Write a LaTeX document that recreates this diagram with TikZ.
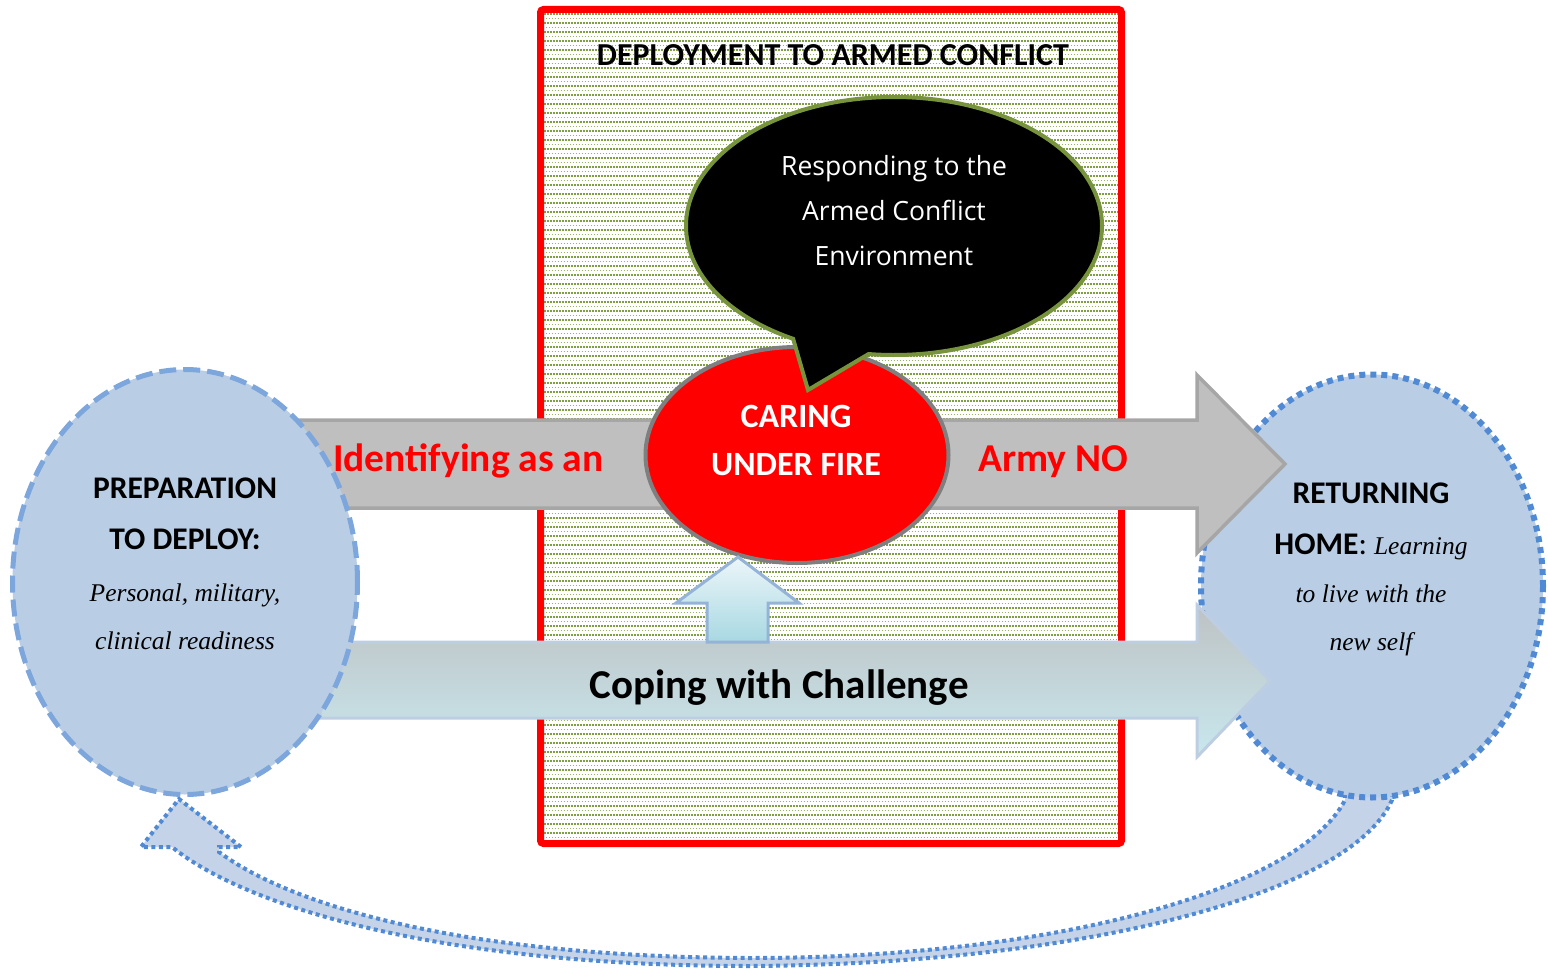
\documentclass[tikz,border=0pt]{standalone}
\usepackage{fontspec}
\setmainfont{Carlito}
\newfontfamily\opensans{Open Sans}
\newfontfamily\serifit{Liberation Serif}
\usetikzlibrary{shapes.geometric,shapes.callouts}

\definecolor{conflictred}{RGB}{255,0,0}
\definecolor{dotgreen}{RGB}{128,158,68}
\definecolor{bubbleedge}{RGB}{119,147,60}
\definecolor{ringgray}{RGB}{127,127,127}
\definecolor{arrowgray}{RGB}{191,191,191}
\definecolor{arrowedge}{RGB}{166,166,166}
\definecolor{circlefill}{RGB}{185,205,229}
\definecolor{dashblue}{RGB}{125,166,220}
\definecolor{dotblue}{RGB}{80,138,212}
\definecolor{copetop}{RGB}{190,194,196}
\definecolor{copebottom}{RGB}{200,232,238}
\definecolor{copeedge}{RGB}{190,206,226}
\definecolor{liftedge}{RGB}{149,179,215}
\definecolor{lifttop}{RGB}{236,246,249}
\definecolor{liftbottom}{RGB}{168,216,226}
\definecolor{loopfill}{RGB}{196,211,232}

\tikzset{
  dotrowa/.style={dotgreen, line width=1.9pt, dash pattern=on 1.6pt off 1.4pt},
  dotrowb/.style={dotgreen!80, line width=1.6pt, dash pattern=on 1.4pt off 1.6pt, dash phase=1.5pt},
  frame/.style={draw=conflictred, line width=7pt, rounded corners=3pt,
    minimum width=581pt, minimum height=834pt, inner sep=0pt},
  titletext/.style={font=\bfseries\fontsize{32}{36}\selectfont, inner sep=0pt},
  idarrow/.style={fill=arrowgray, draw=arrowedge, line width=3.5pt, line join=miter},
  copearrow/.style={top color=copetop, bottom color=copebottom, draw=copeedge,
    line width=3pt, line join=miter},
  liftarrow/.style={top color=lifttop, bottom color=liftbottom, draw=liftedge,
    line width=3pt, line join=miter},
  loopback/.style={fill=loopfill, draw=dotblue, line width=4pt,
    dash pattern=on 4pt off 3.5pt, line join=miter},
  prepcircle/.style={ellipse, fill=circlefill, draw=dashblue, line width=5pt,
    dash pattern=on 17pt off 7pt, minimum width=345pt, minimum height=425pt, inner sep=0pt},
  homecircle/.style={ellipse, fill=circlefill, draw=dotblue, line width=6pt,
    dash pattern=on 6pt off 5pt, minimum width=342pt, minimum height=423pt, inner sep=0pt},
  careellipse/.style={ellipse, fill=conflictred, draw=ringgray, line width=4pt,
    minimum width=303pt, minimum height=216pt, inner sep=0pt},
  bubble/.style={ellipse callout, fill=black, draw=bubbleedge, line width=4pt,
    line join=miter, minimum width=416pt, minimum height=258pt, inner sep=0pt},
  bubbletext/.style={text=white, font=\opensans\fontsize{26.5}{30}\selectfont, inner sep=0pt, anchor=base},
  caretext/.style={text=white, font=\bfseries\fontsize{34}{38}\selectfont, inner sep=0pt, anchor=base},
  redtext/.style={text=conflictred, font=\bfseries\fontsize{39.5}{44}\selectfont, inner sep=0pt, anchor=base},
  copetext/.style={font=\bfseries\fontsize{41}{46}\selectfont, inner sep=0pt, anchor=base},
  headtext/.style={font=\bfseries\fontsize{31.5}{36}\selectfont, inner sep=0pt, anchor=base},
  ittext/.style={font=\serifit\itshape\fontsize{25.5}{30}\selectfont, inner sep=0pt, anchor=base},
}

\begin{document}
\begin{tikzpicture}[x=1pt,y=-1pt]
\useasboundingbox (0,0) rectangle (1548,971);

% textured background of the deployment frame
\fill[white] (540.5,9.5) rectangle (1121.5,843.5);
\foreach \r [evaluate=\r as \yy using {14+4.5*\r}] in {0,...,183} {
  \ifodd\r
    \draw[dotrowb] (544,\yy) -- (1118,\yy);
  \else
    \draw[dotrowa] (544,\yy) -- (1118,\yy);
  \fi
}
\node[frame] (deploy) at (831,426.5) {};
\node[titletext, anchor=base] (deploytitle) at (833,66) {DEPLOYMENT TO ARMED CONFLICT};

% curved return arrow from home back to preparation
\path[loopback] (1392,770) -- (1392,800)
  .. controls (1350,895) and (1080,964) .. (750,966)
  .. controls (450,966) and (250,910) .. (172,847)
  -- (141,847) -- (179,799) -- (241,847) -- (219,847) -- (219,852)
  .. controls (290,905) and (460,957) .. (750,958)
  .. controls (1060,958) and (1300,888) .. (1345,800) -- (1345,770);

% returning home
\node[homecircle] (home) at (1372,586) {};

% identity arrow
\path[idarrow] (300,420) -- (1197,420) -- (1197,375) -- (1285,464)
  -- (1197,553) -- (1197,508) -- (300,508) -- cycle;

% coping arrow
\path[copearrow] (320,642) -- (1197,642) -- (1197,605) -- (1270,681)
  -- (1197,757) -- (1197,718) -- (320,718) -- cycle;

% preparation to deploy
\node[prepcircle] (prep) at (185,582) {};

% caring under fire
\node[careellipse] (care) at (797,455) {};

% lift from coping into caring
\path[liftarrow] (707,642) -- (707,603) -- (676,603) -- (738,557)
  -- (799,603) -- (768,603) -- (768,642) -- cycle;

% speech bubble
\node[bubble, callout absolute pointer={(808,390)}, callout pointer arc=22] (respond) at (894,226) {};

% labels
\node[bubbletext] (respond1) at (894,175.5) {Responding to the};
\node[bubbletext] (respond2) at (894,220.5) {Armed Conflict};
\node[bubbletext] (respond3) at (894,265.5) {Environment};

\node[caretext] (care1) at (796,427) {CARING};
\node[caretext] (care2) at (796,475) {UNDER FIRE};

\node[redtext, anchor=base west] (ident1) at (333,471) {Identifying as an};
\node[redtext, anchor=base west] (ident2) at (978,471) {Army NO};

\node[copetext] (cope) at (779,698) {Coping with Challenge};

\node[headtext] (prep1) at (185,498) {PREPARATION};
\node[headtext] (prep2) at (185,549) {TO DEPLOY:};
\node[ittext] (prep3) at (185,601) {Personal, military,};
\node[ittext] (prep4) at (185,649) {clinical readiness};

\node[headtext] (home1) at (1371,503) {RETURNING};
\node[headtext] (home2) at (1371,554) {HOME{\mdseries:} {\serifit\itshape\mdseries\fontsize{25.5}{30}\selectfont Learning}};
\node[ittext] (home3) at (1371,602) {to live with the};
\node[ittext] (home4) at (1371,650) {new self};
\end{tikzpicture}
\end{document}
